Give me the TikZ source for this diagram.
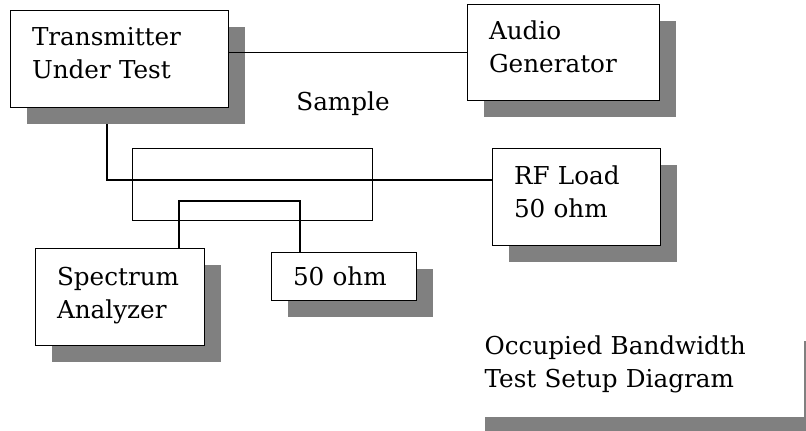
\documentclass[tikz,border=0pt]{standalone}
\usepackage{fontspec}
\setmainfont{DejaVu Serif}
\usetikzlibrary{shadows}

\tikzset{
  box/.style={draw, line width=1pt, fill=white, align=left, anchor=north west,
    inner xsep=16pt, inner ysep=0pt,
    drop shadow={shadow xshift=12pt, shadow yshift=-12pt, fill=black!50, opacity=1}},
  lift/.style={execute at end node={\rule[-#1]{0pt}{#1}}},
  wire/.style={line width=0.9pt}
}

\begin{document}
\begin{tikzpicture}[x=0.75pt, y=-0.75pt, font=\fontsize{18.5}{24.75}\selectfont]
  \useasboundingbox (0,0) rectangle (806,430);
  % instruments
  \node[box, lift=9pt, minimum width=163.5pt, minimum height=72.75pt, text width=131.5pt] (tx) at (10,10) {Transmitter\\Under Test};
  \node[box, lift=9pt, minimum width=144pt, minimum height=72pt, text width=112pt] (ag) at (467,4) {Audio\\Generator};
  \node[box, lift=9pt, minimum width=126pt, minimum height=72.75pt, text width=94pt] (rf) at (492,148) {RF Load\\50 ohm};
  \node[box, lift=6pt, minimum width=126.75pt, minimum height=72.75pt, text width=94.75pt] (sa) at (35,248) {Spectrum\\Analyzer};
  \node[box, minimum width=108.75pt, minimum height=36pt, text width=76.75pt] (lo) at (271,252) {50 ohm};
  \node[box, lift=14pt, draw=none, inner xsep=12pt, minimum width=251.25pt, minimum height=69pt, text width=227.25pt] (note) at (468,324) {Occupied Bandwidth\\Test Setup Diagram};
  % sampler
  \node[draw, wire, anchor=north west, inner sep=0pt, minimum width=180pt, minimum height=54pt] (cpl) at (132,148) {};
  \node (smp) at (343,104) {Sample};
  \coordinate (tap) at (107,180);
  \coordinate (sp) at (179,201);
  \coordinate (sq) at (300,201);
  % wiring
  \draw[wire] (ag.west -| tx.east) -- (ag.west);
  \draw[wire] ([yshift=-12pt]tx.south -| tap) -- (tap) -- (tap -| rf.west);
  \draw[wire] (sa.north -| sp) -- (sp) -- (sq) -- (sq |- lo.north);
\end{tikzpicture}
\end{document}
